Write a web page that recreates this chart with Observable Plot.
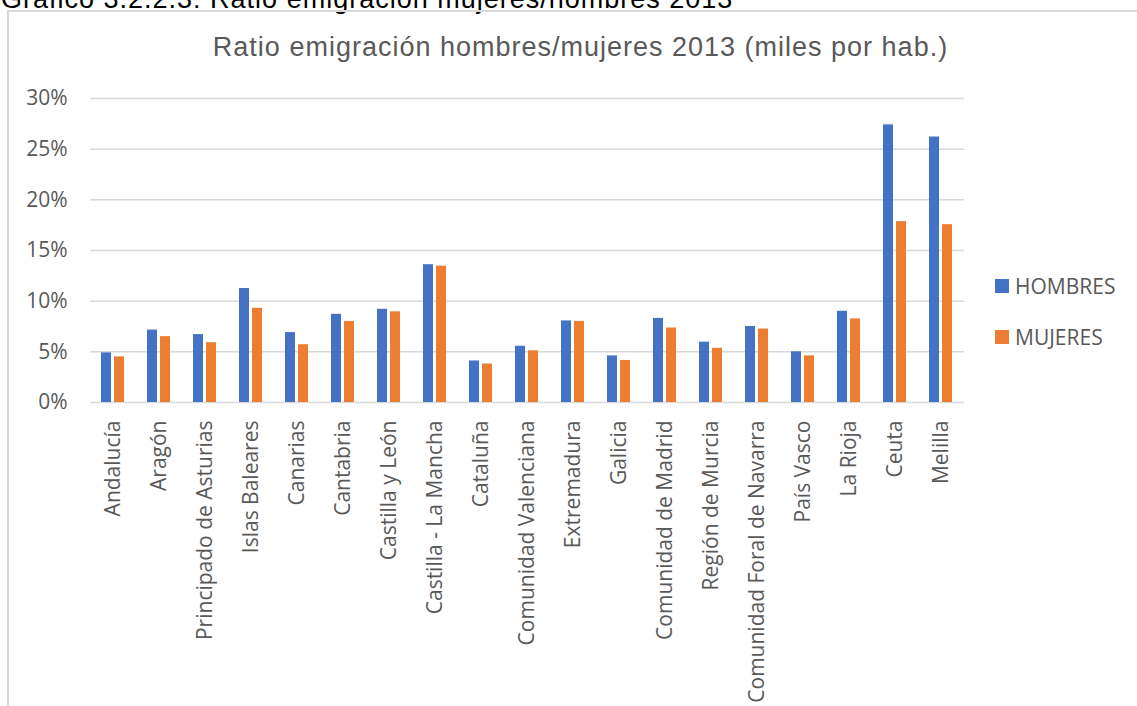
<!DOCTYPE html>
<html>
<head>
<meta charset="utf-8">
<script src="https://cdn.jsdelivr.net/npm/d3@7"></script>
<script src="https://cdn.jsdelivr.net/npm/@observablehq/plot@0.6"></script>
<style>
  html, body { margin: 0; padding: 0; background: #fff; overflow: hidden; }
  #wrap { position: relative; width: 1137px; height: 706px; overflow: hidden; }
  #caption { position: absolute; left: 1px; top: -13.6px; font: 27px "Liberation Sans", Arial, sans-serif; letter-spacing: 1px; line-height: 27px; color: #000; white-space: nowrap; }
  #frame { position: absolute; left: 7px; top: 10px; right: -5px; bottom: -5px; border-left: 2px solid #d9d9d9; border-top: 2px solid #d9d9d9; }
  #title { position: absolute; left: 0; width: 1161px; text-align: center; top: 33.6px; font: 27px "Liberation Sans", Arial, sans-serif; letter-spacing: 1px; line-height: 27px; color: #595959; white-space: nowrap; }
  #chart { position: absolute; left: 0; top: 0; }
  .leg { position: absolute; left: 995px; font: 21px "Open Sans", sans-serif; color: #595959; line-height: 14px; white-space: nowrap; }
  .leg span.sw { display: inline-block; width: 14px; height: 14px; vertical-align: top; margin-right: 6px; }
</style>
</head>
<body>
<div id="wrap">
  <div id="caption">Gráfico 3.2.2.3: Ratio emigración mujeres/hombres 2013</div>
  <div id="frame"></div>
  <div id="chart"></div>
  <div id="title">Ratio emigración hombres/mujeres 2013 (miles por hab.)</div>
  <div id="legend"></div>
</div>
<script>
const regions = ["Andalucía","Aragón","Principado de Asturias","Islas Baleares","Canarias","Cantabria","Castilla y León","Castilla - La Mancha","Cataluña","Comunidad Valenciana","Extremadura","Galicia","Comunidad de Madrid","Región de Murcia","Comunidad Foral de Navarra","País Vasco","La Rioja","Ceuta","Melilla"];
const hombres = [4.9, 7.15, 6.7, 11.25, 6.9, 8.7, 9.2, 13.6, 4.1, 5.55, 8.05, 4.6, 8.3, 5.95, 7.5, 5.0, 9.0, 27.4, 26.2];
const mujeres = [4.5, 6.5, 5.9, 9.3, 5.7, 8.0, 8.95, 13.45, 3.8, 5.1, 8.0, 4.15, 7.35, 5.35, 7.25, 4.6, 8.25, 17.85, 17.55];
const series = ["HOMBRES", "MUJERES"];
const seriesColors = ["#4472C4", "#ED7D31"];
const yTicks = [0, 5, 10, 15, 20, 25, 30];

const data = regions.flatMap((r, i) => [
  {region: r, serie: series[0], value: hombres[i]},
  {region: r, serie: series[1], value: mujeres[i]}
]);

const chart = Plot.plot({
  width: 1137,
  height: 706,
  marginLeft: 90,
  marginRight: 173,
  marginTop: 98,
  marginBottom: 304,
  style: {fontFamily: "'Open Sans', sans-serif", fontSize: "21px", color: "#595959", background: "transparent", overflow: "visible"},
  fx: {domain: regions, padding: 0, label: null},
  x: {domain: series, paddingInner: 0.2, paddingOuter: 0.825, axis: null},
  y: {domain: [0, 30], label: null},
  color: {domain: series, range: seriesColors},
  marks: [
    Plot.gridY(yTicks, {stroke: "#d9d9d9", strokeOpacity: 1, strokeWidth: 1.5}),
    Plot.barY(data, {fx: "region", x: "serie", y: "value", fill: "serie"}),
    Plot.axisY(yTicks, {tickSize: 0, tickPadding: 23, tickFormat: d => d + "%", fill: "#595959", fontSize: 21, label: null}),
    Plot.axisFx({anchor: "bottom", tickRotate: -90, tickSize: 0, tickPadding: 18, fill: "#595959", fontSize: 21, label: null})
  ]
});
document.getElementById("chart").appendChild(chart);

const legend = document.getElementById("legend");
series.forEach((s, i) => {
  const d = document.createElement("div");
  d.className = "leg";
  d.style.top = (279 + i * 51) + "px";
  d.innerHTML = `<span class="sw" style="background:${seriesColors[i]}"></span>${s}`;
  legend.appendChild(d);
});
</script>
</body>
</html>
